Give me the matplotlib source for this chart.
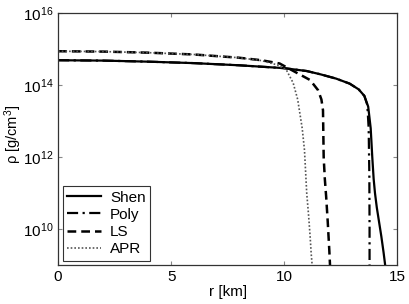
import numpy as np
import matplotlib
matplotlib.use("Agg")
import matplotlib.pyplot as plt
from matplotlib.ticker import FixedLocator, FuncFormatter, NullLocator

plt.rcParams['font.family'] = ['Liberation Sans', 'DejaVu Sans']
plt.rcParams['mathtext.fontset'] = 'custom'
plt.rcParams['mathtext.rm'] = 'Liberation Sans'
plt.rcParams['mathtext.it'] = 'Liberation Sans:italic'

# Data: radius [km] and log10 density [g/cm^3]
shen_r = [0, 2, 4, 6, 8, 10, 11, 11.6, 12.3, 12.9, 13.3, 13.55, 13.72, 13.83, 13.9, 13.96, 14.02, 14.1, 14.2, 14.3, 14.4, 14.47]
shen_logrho = [14.69, 14.68, 14.65, 14.61, 14.55, 14.47, 14.39, 14.3, 14.18, 14.04, 13.88, 13.7, 13.4, 12.8, 12.0, 11.4, 11.0, 10.6, 10.2, 9.8, 9.35, 9.0]

poly_r = [0, 2, 4, 6, 8, 10, 11, 11.6, 12.3, 12.9, 13.3, 13.55, 13.68, 13.74, 13.77, 13.78, 13.78]
poly_logrho = [14.69, 14.68, 14.65, 14.61, 14.55, 14.47, 14.39, 14.3, 14.18, 14.04, 13.88, 13.7, 13.45, 12.8, 11.5, 10.0, 9.0]

ls_r = [0, 2, 4, 6, 8, 9, 9.8, 10.5, 11.15, 11.5, 11.65, 11.72, 11.75, 11.8, 11.86, 11.93, 12.0, 12.03]
ls_logrho = [14.94, 14.93, 14.9, 14.85, 14.76, 14.69, 14.6, 14.36, 14.14, 13.86, 13.6, 13.3, 12.0, 11.4, 10.9, 10.2, 9.4, 9.0]

apr_r = [0, 2, 4, 6, 8, 9, 9.7, 10.1, 10.4, 10.6, 10.8, 10.9, 11.0, 11.08, 11.15, 11.2, 11.24]
apr_logrho = [14.94, 14.93, 14.9, 14.85, 14.76, 14.68, 14.56, 14.42, 14.06, 13.6, 12.8, 12.2, 11.0, 10.4, 9.8, 9.3, 9.0]

labels = ['Shen', 'Poly', 'LS', 'APR']
xticks = [0, 5, 10, 15]
yticks = [1e10, 1e12, 1e14, 1e16]

fig = plt.figure(figsize=(4.09, 3.04), dpi=100)
ax = fig.add_axes([0.142, 0.128, 0.829, 0.829])

ax.plot(shen_r, 10**np.array(shen_logrho), color='black', lw=1.6, ls='-', label=labels[0])
ax.plot(poly_r, 10**np.array(poly_logrho), color='black', lw=1.6, ls=(0, (5, 2, 1, 2)), label=labels[1])
ax.plot(ls_r, 10**np.array(ls_logrho), color='black', lw=1.8, ls=(0, (3.5, 2)), label=labels[2])
ax.plot(apr_r, 10**np.array(apr_logrho), color='#555555', lw=1.2, ls=(0, (1, 1.2)), label=labels[3])

ax.set_yscale('log')
ax.set_xlim(0, 15)
ax.set_ylim(1e9, 1e16)
ax.xaxis.set_major_locator(FixedLocator(xticks))
ax.yaxis.set_major_locator(FixedLocator(yticks))
ax.yaxis.set_minor_locator(NullLocator())
ax.yaxis.set_major_formatter(FuncFormatter(lambda v, p: r'$\mathregular{10^{%d}}$' % round(np.log10(v))))
ax.tick_params(which='both', direction='in', top=True, right=True, labelsize=11, length=3, color='#888888')
for s in ax.spines.values():
    s.set_linewidth(0.9)
    s.set_color('#333333')

ax.set_xlabel('r [km]', fontsize=11, labelpad=1)
ax.set_ylabel(r'ρ [g/cm$^3$]', fontsize=10.5)
ax.yaxis.set_label_coords(-0.1, 0.52)

leg = ax.legend(loc='lower left', fontsize=11, frameon=True, fancybox=False, edgecolor='black',
                handlelength=2.2, borderaxespad=0.3, labelspacing=0.2, handletextpad=0.6, borderpad=0.3)
leg.get_frame().set_linewidth(0.8)

fig.savefig('out.png', dpi=100)
